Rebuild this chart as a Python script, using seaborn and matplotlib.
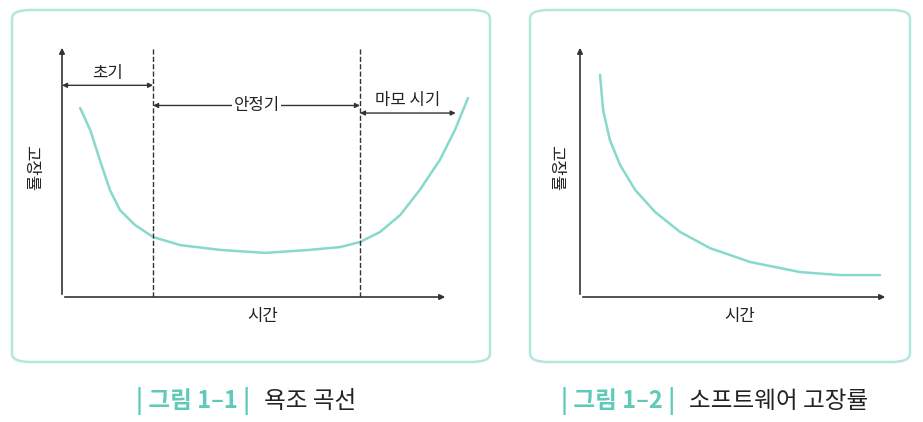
import matplotlib
matplotlib.use("Agg")
import matplotlib.pyplot as plt
import seaborn as sns
import pandas as pd
from matplotlib.patches import FancyBboxPatch

sns.set_style("white")
plt.rcParams['font.family'] = ['Noto Sans CJK KR', 'DejaVu Sans']

# 욕조 곡선 (시간 0~10 기준)
bath_t = [0.47, 0.73, 0.98, 1.24, 1.50, 1.89, 2.36, 3.06, 4.09, 5.26, 6.42, 7.20, 7.72, 8.24, 8.76, 9.27, 9.79, 10.18, 10.52]
bath_r = [7.5, 6.63, 5.44, 4.25, 3.45, 2.86, 2.38, 2.06, 1.87, 1.75, 1.87, 1.98, 2.18, 2.58, 3.25, 4.25, 5.44, 6.63, 7.9]
# 소프트웨어 고장률
sw_t = [0.65, 0.75, 0.97, 1.30, 1.79, 2.44, 3.25, 4.22, 5.52, 7.14, 8.44, 9.74]
sw_r = [8.81, 7.42, 6.23, 5.24, 4.25, 3.37, 2.58, 1.94, 1.39, 0.99, 0.87, 0.87]
phase_bounds = [2.36, 7.72]

W, H = 923, 422
curve_c = "#86d9cb"
box_c = "#b5e6dd"
teal = "#5fcab9"
ink = "#222222"

fig = plt.figure(figsize=(W / 100, H / 100), dpi=100)

def px_axes(x0, y0, x1, y1):
    # 픽셀 좌표(위가 0)로 axes 배치
    return fig.add_axes([x0 / W, 1 - y1 / H, (x1 - x0) / W, (y1 - y0) / H])

# 패널 테두리
for (x0, y0, x1, y1) in [(12, 10, 490, 362), (530, 10, 910, 362)]:
    fig.patches.append(FancyBboxPatch((x0 / W, 1 - y1 / H), (x1 - x0) / W, (y1 - y0) / H,
                                      boxstyle="round,pad=0,rounding_size=0.02",
                                      transform=fig.transFigure, fill=False,
                                      edgecolor=box_c, linewidth=1.8))

def setup(ax):
    ax.set_xlim(0, 10)
    ax.set_ylim(0, 10)
    ax.axis("off")
    ax.annotate("", xy=(10, 0), xytext=(0, 0), annotation_clip=False,
                arrowprops=dict(arrowstyle="-|>", color="#333333", lw=1.2, mutation_scale=8))
    ax.annotate("", xy=(0, 10), xytext=(0, 0), annotation_clip=False,
                arrowprops=dict(arrowstyle="-|>", color="#333333", lw=1.2, mutation_scale=8))
    ax.text(-0.8, 5.1, "고장률", rotation=-90, ha="center", va="center", fontsize=12, color=ink)
    ax.text(5.2, -0.45, "시간", ha="center", va="top", fontsize=12, color=ink)

ax1 = px_axes(62, 45, 448, 297)
setup(ax1)
sns.lineplot(data=pd.DataFrame({"t": bath_t, "r": bath_r}), x="t", y="r", ax=ax1,
             color=curve_c, lw=1.8, sort=False, clip_on=False)
for b in phase_bounds:
    ax1.plot([b, b], [0, 9.9], ls="--", color="#333333", lw=1)

def span(ax, a, b, y):
    ax.annotate("", xy=(b, y), xytext=(a, y), annotation_clip=False,
                arrowprops=dict(arrowstyle="<|-|>", color="#333333", lw=1, mutation_scale=7,
                                shrinkA=0, shrinkB=0))

span(ax1, 0, phase_bounds[0], 8.4)
ax1.text(phase_bounds[0] / 2, 8.55, "초기", ha="center", va="bottom", fontsize=12, color=ink)
span(ax1, phase_bounds[0], phase_bounds[1], 7.6)
ax1.text(5.04, 7.6, "안정기", ha="center", va="center", fontsize=12, color=ink,
         bbox=dict(facecolor="white", edgecolor="none", pad=1))
span(ax1, phase_bounds[1], 10.2, 7.3)
ax1.text(8.96, 7.45, "마모 시기", ha="center", va="bottom", fontsize=12, color=ink,
         bbox=dict(facecolor="white", edgecolor="none", pad=0.5))

ax2 = px_axes(580, 45, 888, 297)
setup(ax2)
sns.lineplot(data=pd.DataFrame({"t": sw_t, "r": sw_r}), x="t", y="r", ax=ax2,
             color=curve_c, lw=1.8, sort=False, clip_on=False)

# 캡션
for x, num, title in [(136, "그림 1–1", "욕조 곡선"), (561, "그림 1–2", "소프트웨어 고장률")]:
    t1 = fig.text(x / W, 1 - 401 / H, "| " + num + " |", fontsize=17, color=teal,
                  fontweight="bold", va="center")
    fig.canvas.draw()
    bb = t1.get_window_extent()
    fig.text(bb.x1 / W + 14 / W, 1 - 401 / H, title, fontsize=17, color=ink, va="center")

fig.savefig("out.png", dpi=100)
